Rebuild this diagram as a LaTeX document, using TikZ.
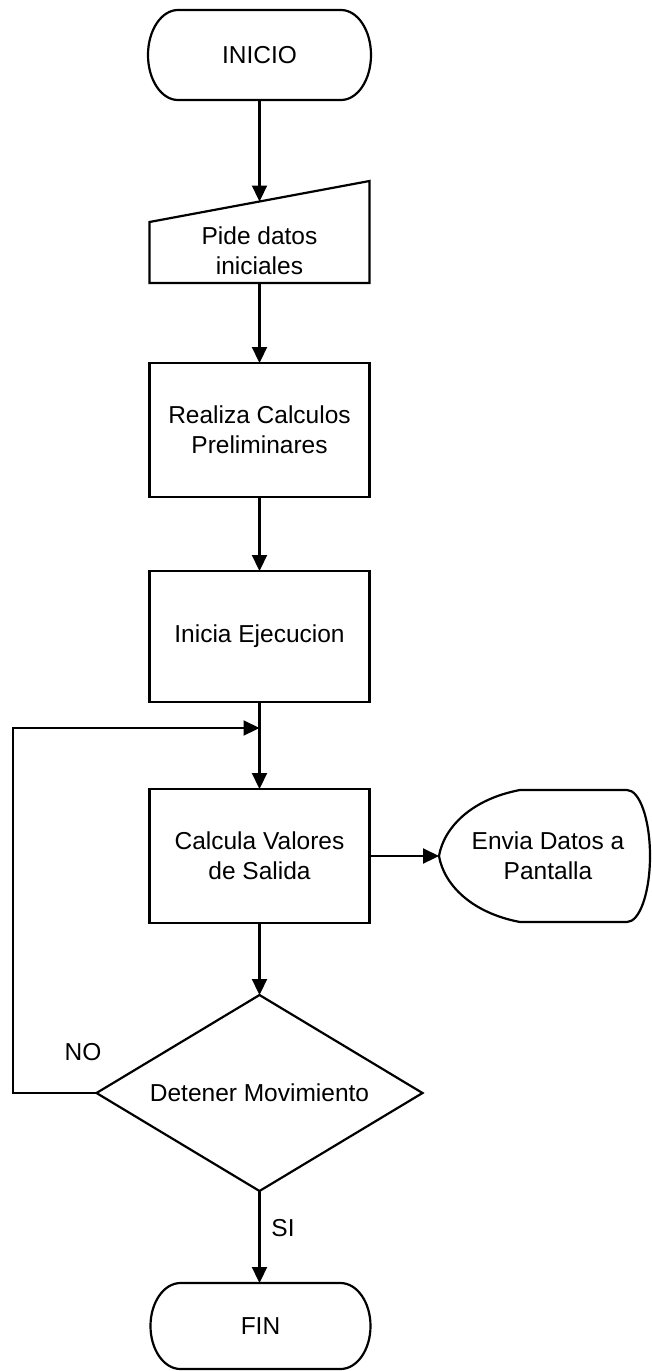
\documentclass[tikz,border=0pt]{standalone}
\usepackage{fontspec}
\setmainfont{Liberation Sans}
\usetikzlibrary{arrows.meta,calc}

\tikzset{
  x=1pt, y=1pt,
  every node/.style={inner sep=0pt, outer sep=0pt, font=\fontsize{24.5}{30}\selectfont, align=center},
  line/.style={line width=2.2pt, black, line join=miter},
  arr/.style={line, -{Triangle[length=16pt,width=15pt]}},
  procbox/.style={line, draw, rectangle, minimum width=220, minimum height=133},
  frame/.style={rectangle, minimum width=#1},
}

\begin{document}
\begin{tikzpicture}
\useasboundingbox (0,0) rectangle (652,-1371);

% start terminal
\node[frame=223, minimum height=90] (ini) at (259.5,-55) {INICIO};
\draw[line] ($(ini.north west)+(30,0)$) -- ($(ini.north east)+(-30,0)$)
  arc[start angle=90, end angle=-90, x radius=30, y radius=45]
  -- ($(ini.south west)+(30,0)$)
  arc[start angle=270, end angle=90, x radius=30, y radius=45] -- cycle;

% manual input (slanted top)
\node[frame=220, minimum height=102] (pide) at (259.5,-232) {};
\draw[line] (pide.south west) -- (pide.south east) -- (pide.north east)
  -- ($(pide.north west)+(0,-41)$) -- cycle;
\node (pidetxt) at (259.5,-251) {Pide datos\\iniciales};
\coordinate (pidein) at ($(pide.north)+(0,-20.5)$);

% processes
\node[procbox, minimum height=134] (rea) at (259.5,-430) {Realiza Calculos\\Preliminares};
\node[procbox, minimum height=131] (inic) at (259.5,-636.5) {Inicia Ejecucion};
\node[procbox, minimum height=134] (calc) at (259.5,-856) {Calcula Valores\\de Salida};

% display
\node[frame=212, minimum height=132] (disp) at (545,-856) {};
\draw[line] (520,-790) -- (627,-790)
  arc[start angle=90, end angle=-90, x radius=23, y radius=66]
  -- (520,-922)
  .. controls (472,-913) and (444,-885) .. (disp.west)
  .. controls (444,-827) and (472,-799) .. cycle;
\node (disptxt) at (548,-856) {Envia Datos a\\Pantalla};

% decision
\node[frame=326, minimum height=196] (dec) at (259.5,-1093) {Detener Movimiento};
\draw[line] (dec.north) -- (dec.east) -- (dec.south) -- (dec.west) -- cycle;

% end terminal
\node[frame=220, minimum height=86] (fin) at (260.5,-1326) {FIN};
\draw[line] ($(fin.north west)+(30,0)$) -- ($(fin.north east)+(-30,0)$)
  arc[start angle=90, end angle=-90, x radius=30, y radius=43]
  -- ($(fin.south west)+(30,0)$)
  arc[start angle=270, end angle=90, x radius=30, y radius=43] -- cycle;

% connectors
\coordinate (join) at (259.5,-728);
\coordinate (loopx) at (13,-1093);
\draw[arr] (ini.south) -- (pidein);
\draw[arr] (pide.south) -- (rea.north);
\draw[arr] (rea.south) -- (inic.north);
\draw[arr] (inic.south) -- (calc.north);
\draw[arr] (dec.west) -- (loopx) |- (join);
\draw[arr] (calc.east) -- (disp.west);
\draw[arr] (calc.south) -- (dec.north);
\draw[arr] (dec.south) -- (dec.south |- fin.north);

% branch labels
\node (nolbl) at (83,-1052) {NO};
\node (silbl) at (283,-1228) {SI};
\end{tikzpicture}
\end{document}
